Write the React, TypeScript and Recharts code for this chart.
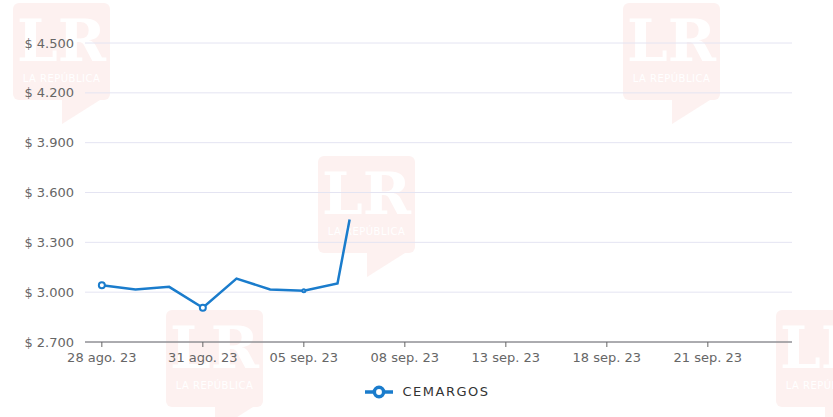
import React from 'react';
import { LineChart, Line, XAxis, YAxis, CartesianGrid, Legend } from 'recharts';

// trading days shown on the axis (every third one gets a label)
const dates = [
  '28 ago. 23', '29 ago. 23', '30 ago. 23', '31 ago. 23', '01 sep. 23',
  '04 sep. 23', '05 sep. 23', '06 sep. 23', '07 sep. 23', '08 sep. 23',
  '11 sep. 23', '12 sep. 23', '13 sep. 23', '14 sep. 23', '15 sep. 23',
  '18 sep. 23', '19 sep. 23', '20 sep. 23', '21 sep. 23', '22 sep. 23',
  '25 sep. 23',
];
const prices = [3042, 3016, 3032, 2906, 3082, 3016, 3008, 3052];
// the line stops part way towards the next day
const lineEnd = { pos: 7.36, price: 3438 };
const labelledDays = [0, 3, 6, 9, 12, 15, 18];
const priceTicks = [2700, 3000, 3300, 3600, 3900, 4200, 4500];

const data = [
  ...prices.map((price, i) => ({ pos: i, price })),
  lineEnd,
];

const BLUE = '#1a7ccc';
const FONT = '"DejaVu Sans", sans-serif';
const MARK = '#fdf1f0';

const formatPrice = (v: number) =>
  `$ ${Math.floor(v / 1000)}.${String(v % 1000).padStart(3, '0')}`;

const Watermark = ({ x, y }: { x: number; y: number }) => (
  <div style={{ position: 'absolute', left: x, top: y, width: 97, height: 122, overflow: 'hidden' }}>
    <div
      style={{
        position: 'absolute', left: 0, top: 0, width: 97, height: 97,
        background: MARK, borderRadius: 6, color: '#fff',
        textAlign: 'center', fontFamily: '"DejaVu Serif", serif',
      }}
    >
      <div style={{ fontSize: 58, fontWeight: 'bold', lineHeight: '64px', marginTop: 6 }}>LR</div>
      <div style={{ fontSize: 10, fontFamily: FONT, letterSpacing: 0.5 }}>LA REPÚBLICA</div>
    </div>
    <svg style={{ position: 'absolute', left: 0, top: 97 }} width={97} height={25}>
      <polygon points="49,0 87,0 49,24" fill={MARK} />
    </svg>
  </div>
);

const renderDot = (props: any) => {
  const { cx, cy, index } = props;
  if (index % 3 !== 0 || index > 6) return <g key={`d${index}`} />;
  return (
    <circle
      key={`d${index}`}
      cx={cx}
      cy={cy}
      r={index === 6 ? 1.5 : 3}
      fill="#fff"
      stroke={BLUE}
      strokeWidth={2}
    />
  );
};

export default function App() {
  return (
    <div style={{ position: 'absolute', left: 0, top: 0, width: 833, height: 417, background: '#fff', overflow: 'hidden' }}>
      <Watermark x={13} y={3} />
      <Watermark x={623} y={3} />
      <Watermark x={318} y={156} />
      <Watermark x={166} y={310} />
      <Watermark x={776} y={310} />
      <div style={{ position: 'absolute', left: 0, top: 0 }}>
        <LineChart width={833} height={417} data={data} margin={{ top: 43, right: 41, bottom: 45, left: 0 }}>
          <CartesianGrid vertical={false} stroke="#e4e4f2" />
          <XAxis
            type="number"
            dataKey="pos"
            domain={[-0.5, 20.5]}
            ticks={labelledDays}
            tickFormatter={(v: number) => dates[v]}
            tick={{ fill: '#666', fontSize: 13, fontFamily: FONT }}
            axisLine={{ stroke: '#666' }}
            tickLine={{ stroke: '#666' }}
            tickSize={5}
            tickMargin={6}
            height={30}
          />
          <YAxis
            domain={[2700, 4500]}
            ticks={priceTicks}
            tickFormatter={formatPrice}
            tick={{ fill: '#666', fontSize: 13, fontFamily: FONT }}
            axisLine={false}
            tickLine={false}
            width={85}
            tickMargin={5}
          />
          <Line
            dataKey="price"
            name="CEMARGOS"
            stroke={BLUE}
            strokeWidth={2.5}
            dot={renderDot}
            activeDot={false}
            isAnimationActive={false}
          />
          <Legend
            layout="horizontal"
            verticalAlign="middle"
            align="center"
            iconSize={28}
            wrapperStyle={{ top: 378, left: 36 }}
            formatter={(value: string) => (
              <span style={{ color: '#333', fontSize: 13, fontFamily: FONT, letterSpacing: 1.5, marginLeft: 6 }}>{value}</span>
            )}
          />
        </LineChart>
      </div>
    </div>
  );
}
